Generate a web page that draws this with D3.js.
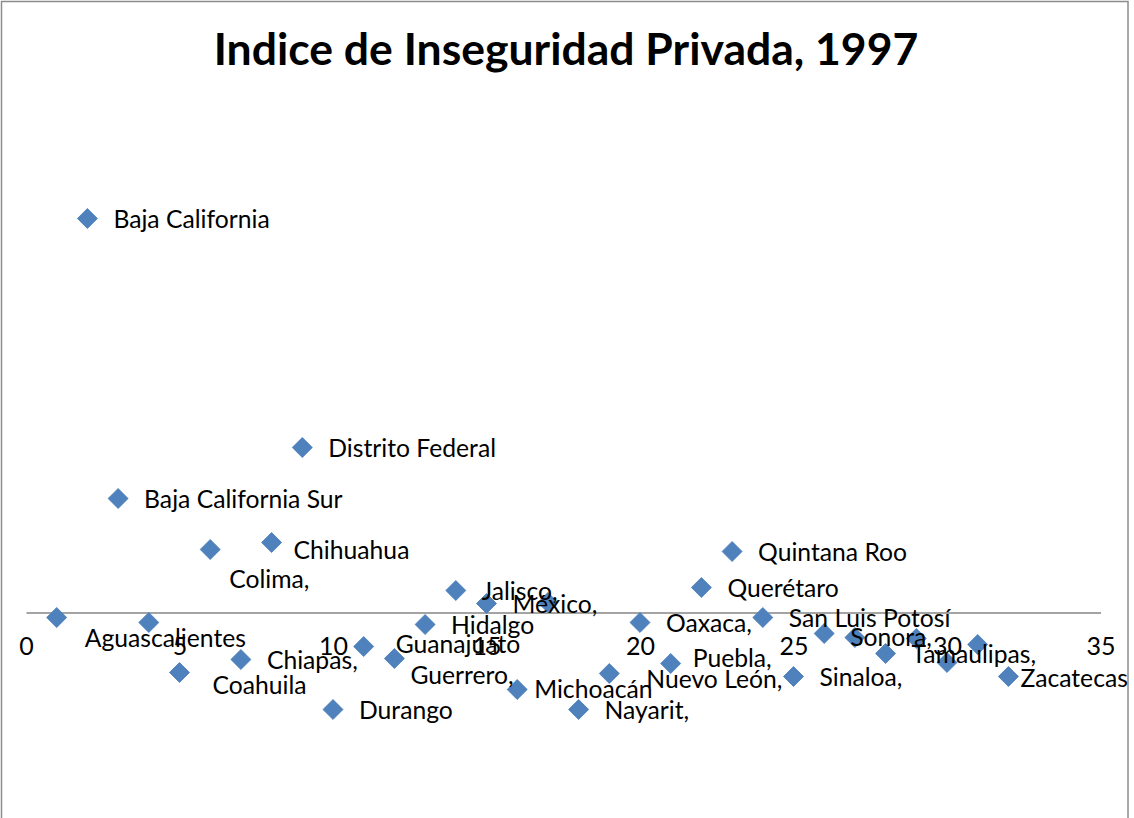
<!DOCTYPE html>
<html>
<head>
<meta charset="utf-8">
<script src="https://cdn.jsdelivr.net/npm/d3@7"></script>
<style>
  body { margin: 0; background: #fff; }
  text { font-family: Lato, "Open Sans", sans-serif; }
</style>
</head>
<body>
<svg width="1134" height="818"></svg>
<script>
// states in the order they are plotted (x = 1..32)
const states = ["Aguascalientes", "Baja California", "Baja California Sur", "Campeche",
  "Coahuila", "Colima", "Chiapas", "Chihuahua", "Distrito Federal", "Durango",
  "Guanajuato", "Guerrero", "Hidalgo", "Jalisco", "México", "Michoacán", "Morelos",
  "Nayarit", "Nuevo León", "Oaxaca", "Puebla", "Querétaro", "Quintana Roo",
  "San Luis Potosí", "Sinaloa", "Sonora", "Tabasco", "Tamaulipas", "Tlaxcala",
  "Veracruz", "Yucatán", "Zacatecas"]

// index values
const index1997 = [-0.05, 3.94, 1.14, -0.10, -0.60, 0.63, -0.47, 0.70, 1.65, -0.97,
  -0.34, -0.46, -0.12, 0.22, 0.09, -0.77, 0.10, -0.97, -0.61, -0.10,
  -0.51, 0.25, 0.61, -0.05, -0.64, -0.21, -0.25, -0.41, -0.26, -0.50,
  -0.32, -0.64]

// data labels as they appear in the chart ("" = no label shown)
const labels = ["Aguascalientes", "Baja California", "Baja California Sur", "",
  "Coahuila", "Colima,", "Chiapas,", "Chihuahua", "Distrito Federal", "Durango",
  "Guanajuato", "Guerrero,", "Hidalgo", "Jalisco,", "México,", "Michoacán", "",
  "Nayarit,", "Nuevo León,", "Oaxaca,", "Puebla,", "Querétaro", "Quintana Roo",
  "San Luis Potosí", "Sinaloa,", "Sonora,", "", "Tamaulipas,", "",
  "", "", "Zacatecas"]

const xTicks = [0, 5, 10, 15, 20, 25, 30, 35]

// labels that were dragged away from the default spot [dx, dy]
const labelNudge = {
  "Aguascalientes": [28, 21], "Colima": [19, 30], "Chihuahua": [22, 8],
  "Coahuila": [33, 13], "Guanajuato": [32, -2], "Guerrero": [16, 17],
  "Michoacán": [17, 0], "Nuevo León": [37, 6], "Puebla": [22, -5],
  "Sonora": [26, 4], "Zacatecas": [12, 2]
}

const svg = d3.select("svg"),
    width = +svg.attr("width"),
    height = +svg.attr("height")

svg.append("rect")
    .attr("x", 1.5).attr("y", 1.5)
    .attr("width", 1126.5).attr("height", height + 20)
    .attr("fill", "#fff")
    .attr("stroke", "#8c8c8c")
    .attr("stroke-width", 1.5)

svg.append("text")
    .attr("x", 566).attr("y", 65)
    .attr("text-anchor", "middle")
    .attr("font-weight", "bold")
    .attr("font-size", 44.5)
    .text("Indice de Inseguridad Privada, 1997")

let x = d3.scaleLinear().domain([0, 35]).range([26, 1100.5])
let y = d3.scaleLinear().domain([-2, 5]).range([812.5, 112.5])

// horizontal axis sits at y = 0
let xAxis = svg.append("g")
    .attr("transform", `translate(0,${y(0)})`)
    .call(d3.axisBottom(x).tickValues(xTicks).tickSize(0).tickPadding(0))
xAxis.select(".domain").attr("stroke", "#868686").attr("stroke-width", 1.5)
xAxis.selectAll(".tick text")
    .attr("font-size", 25)
    .attr("font-family", "Lato, sans-serif")
    .attr("fill", "#000")
    .attr("dy", null)
    .attr("y", 42)

let points = states.map((s, i) => ({name: s, x: i + 1, v: index1997[i], label: labels[i]}))

let diamond = d3.symbol(d3.symbolSquare, 200)

svg.append("g")
    .selectAll("path")
    .data(points)
    .enter().append("path")
    .attr("d", diamond)
    .attr("transform", d => `translate(${x(d.x)},${y(d.v)}) rotate(45)`)
    .attr("fill", "#4f81bd")
    .attr("stroke", "#4a7ebb")
    .attr("stroke-width", 0.8)

svg.append("g")
    .selectAll("text")
    .data(points.filter(d => d.label))
    .enter().append("text")
    .attr("x", d => x(d.x) + (labelNudge[d.name] || [26, 1])[0])
    .attr("y", d => y(d.v) + (labelNudge[d.name] || [26, 1])[1] + 8.5)
    .attr("font-size", 24.7)
    .attr("fill", "#000")
    .text(d => d.label)
</script>
</body>
</html>
